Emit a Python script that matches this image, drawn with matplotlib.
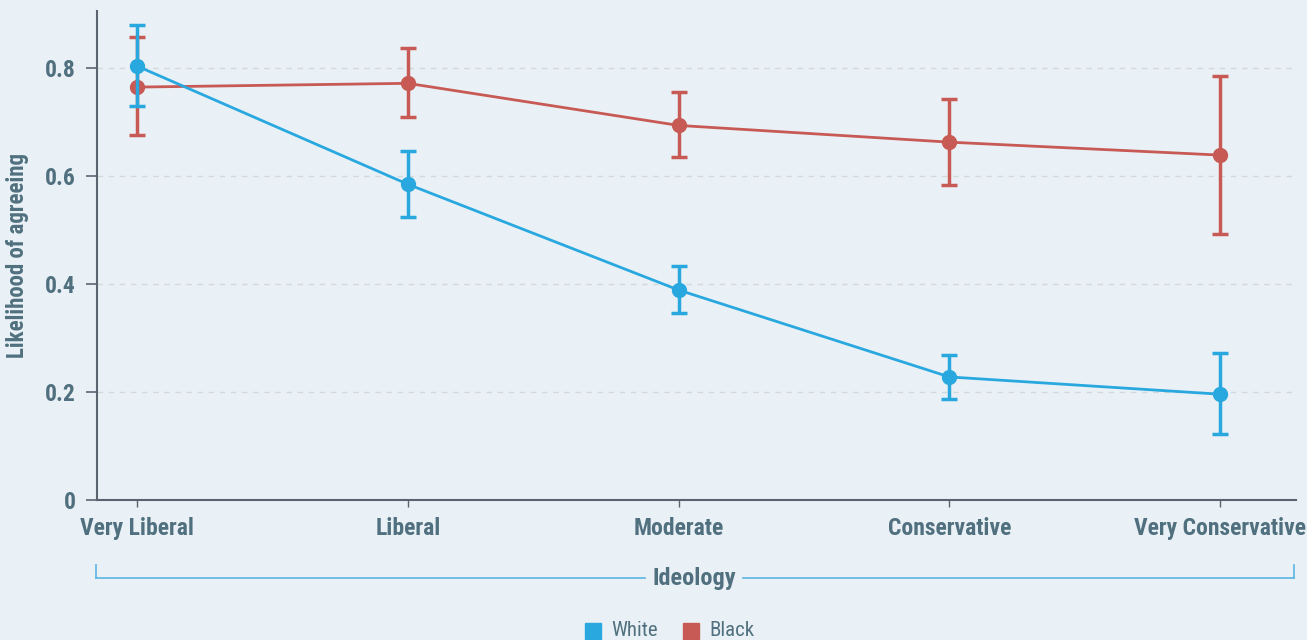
import matplotlib
matplotlib.use("Agg")
import matplotlib.pyplot as plt
from matplotlib.lines import Line2D
from matplotlib.patches import Rectangle

categories = ["Very Liberal", "Liberal", "Moderate", "Conservative", "Very Conservative"]
white = [0.804, 0.585, 0.389, 0.228, 0.196]
white_lo = [0.730, 0.524, 0.346, 0.187, 0.122]
white_hi = [0.880, 0.646, 0.433, 0.269, 0.272]
black = [0.765, 0.772, 0.694, 0.663, 0.639]
black_lo = [0.676, 0.709, 0.635, 0.583, 0.493]
black_hi = [0.857, 0.837, 0.756, 0.743, 0.785]
yticks = [0, 0.2, 0.4, 0.6, 0.8]
ytick_labels = ["0", "0.2", "0.4", "0.6", "0.8"]

BG = "#EAF1F6"
BLUE = "#29A8E0"
RED = "#C85A55"
TXT = "#50707F"
FONT = ["Roboto Condensed", "Liberation Sans", "DejaVu Sans"]
plt.rcParams["font.family"] = FONT

fig = plt.figure(figsize=(13.07, 6.4), dpi=100, facecolor=BG)
ax = fig.add_axes([97/1307, 1-500/640, (1296-97)/1307, (500-11)/640])
ax.set_facecolor(BG)

x = list(range(len(categories)))
for vals, lo, hi, col, z in [(black, black_lo, black_hi, RED, 3), (white, white_lo, white_hi, BLUE, 4)]:
    err = [[v - l for v, l in zip(vals, lo)], [h - v for v, h in zip(vals, hi)]]
    ax.errorbar(x, vals, yerr=err, color=col, lw=2, elinewidth=2.5, capsize=6, capthick=2.5,
                marker="o", markersize=10, zorder=z)

ax.set_xlim(-0.148, 4.28)
ax.set_ylim(0, 0.906)
ax.set_yticks(yticks)
ax.set_yticklabels(ytick_labels)
ax.set_xticks(x)
ax.set_xticklabels(categories)
for s in ["top", "right"]:
    ax.spines[s].set_visible(False)
for s in ["left", "bottom"]:
    ax.spines[s].set_color("#5A6470")
    ax.spines[s].set_linewidth(1.5)
ax.tick_params(axis="y", length=8, width=1.2, color="#5A6470", pad=7,
               labelsize=17, labelcolor=TXT)
ax.tick_params(axis="x", length=5, width=1, color="#5A6470", pad=7,
               labelsize=17, labelcolor=TXT)
for lab in ax.get_xticklabels() + ax.get_yticklabels():
    lab.set_fontweight("bold")
ax.yaxis.grid(True, ls=(0, (4, 4)), color="#D3D8DB", lw=1)
ax.set_axisbelow(True)
ax.set_ylabel("Likelihood of agreeing", fontsize=16.5, fontweight="bold", color=TXT)
ax.yaxis.set_label_coords(-0.057, 0.5)

# Bracket
bc = "#5AB4E2"
y0, y1 = 1-578/640, 1-565/640
fig.add_artist(Line2D([96/1307, 96/1307], [y1, y0], color=bc, lw=1.2))
fig.add_artist(Line2D([1294/1307, 1294/1307], [y1, y0], color=bc, lw=1.2))
fig.add_artist(Line2D([96/1307, 645/1307], [y0, y0], color=bc, lw=1.2))
fig.add_artist(Line2D([743/1307, 1294/1307], [y0, y0], color=bc, lw=1.2))
fig.text(694/1307, y0, "Ideology", ha="center", va="center", fontsize=17.5,
         fontweight="bold", color=TXT)

# Legend
ly = 1-631/640
for lx, lbl, col in [(585, "White", BLUE), (683, "Black", RED)]:
    fig.add_artist(Rectangle((lx/1307, ly-8/640), 16/1307, 16/640, color=col,
                             transform=fig.transFigure))
    fig.text((lx+26)/1307, ly, lbl, ha="left", va="center", fontsize=15, color=TXT)

fig.savefig("out.png", dpi=100, facecolor=BG)
